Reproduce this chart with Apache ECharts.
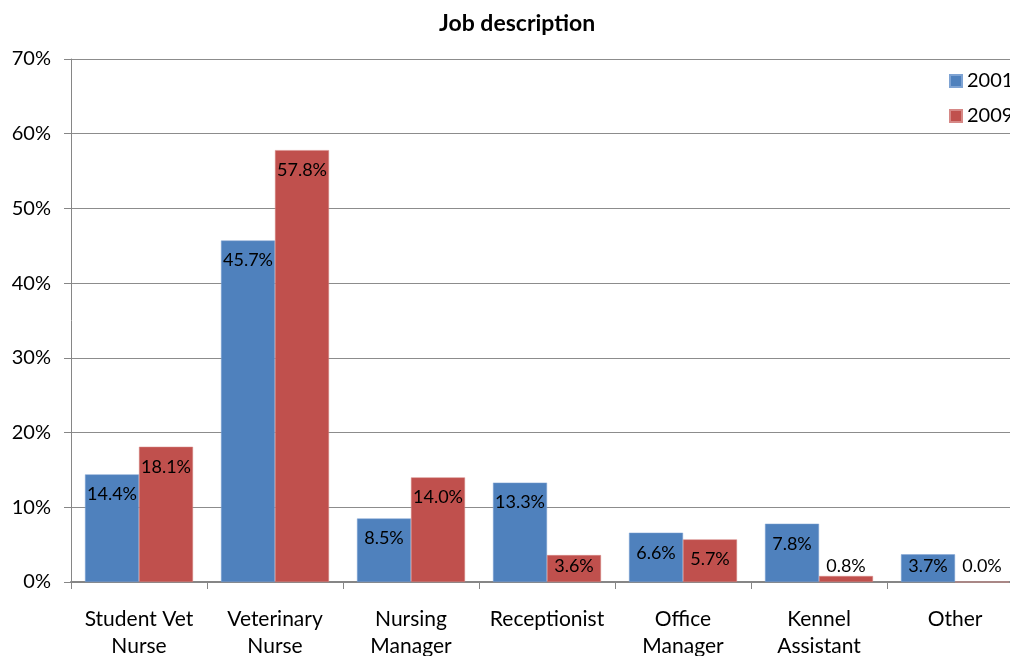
<!DOCTYPE html>
<html>
<head>
<meta charset="utf-8">
<script src="https://cdn.jsdelivr.net/npm/echarts@6/dist/echarts.min.js"></script>
<style>
	html, body { margin: 0; padding: 0; background: #fff; }
	#chartBox { width: 1010px; height: 656px; }
</style>
</head>
<body>
<div id="chartBox"></div>
<script>
var categories = ['Student Vet\nNurse', 'Veterinary\nNurse', 'Nursing\nManager', 'Receptionist', 'Office\nManager', 'Kennel\nAssistant', 'Other'];
var values2001 = [14.4, 45.7, 8.5, 13.3, 6.6, 7.8, 3.7];
var values2009 = [18.1, 57.8, 14.0, 3.6, 5.7, 0.8, 0.0];
var seriesNames = ['2001', '2009'];

window.addEventListener('load', function() {
	var myChart = echarts.init(document.getElementById('chartBox'));
	var fontName = 'Lato, "Open Sans", sans-serif';

	// short bars get their label sitting just above the axis, like Excel does
	function withLabels(arr) {
		return arr.map(function(v) {
			var item = { value: v };
			if (v < 5) {
				item.label = { position: 'insideBottom', distance: 7 };
			}
			return item;
		});
	}

	var labelStyle = {
		show: true,
		position: 'insideTop',
		distance: 11,
		color: '#000',
		fontSize: 18,
		fontFamily: fontName,
		formatter: function(p) { return p.value.toFixed(1) + '%'; }
	};

	var option = {
		animation: false,
		title: {
			text: 'Job description',
			left: 434,
			top: 7,
			textStyle: { fontSize: 23, fontWeight: 'bold', color: '#000', fontFamily: fontName }
		},
		legend: {
			orient: 'vertical',
			left: 944,
			top: 66,
			itemWidth: 12,
			itemHeight: 12,
			itemGap: 15,
			icon: 'rect',
			textStyle: { fontSize: 20, color: '#000', fontFamily: fontName },
			data: seriesNames
		},
		grid: {
			left: 71,
			top: 59,
			width: 952,
			height: 523,
			outerBoundsMode: 'none'
		},
		xAxis: {
			type: 'category',
			data: categories,
			axisLine: { lineStyle: { color: '#868686', width: 2 } },
			axisTick: { show: true, length: 7, lineStyle: { color: '#868686' } },
			axisLabel: {
				interval: 0,
				margin: 24,
				fontSize: 21,
				lineHeight: 27,
				color: '#000',
				fontFamily: fontName
			}
		},
		yAxis: {
			type: 'value',
			min: 0,
			max: 70,
			interval: 10,
			axisLine: { show: true, lineStyle: { color: '#868686' } },
			axisTick: { show: true, length: 7, lineStyle: { color: '#868686' } },
			axisLabel: {
				formatter: '{value}%',
				margin: 20,
				fontSize: 20,
				color: '#000',
				fontFamily: fontName
			},
			splitLine: { lineStyle: { color: '#8c8c8c' } }
		},
		series: [{
			name: seriesNames[0],
			type: 'bar',
			barGap: 0,
			barCategoryGap: '20.6%',
			itemStyle: { color: '#4F81BD', borderColor: '#7ea3d3', borderWidth: 0.5 },
			label: labelStyle,
			data: withLabels(values2001)
		}, {
			name: seriesNames[1],
			type: 'bar',
			barGap: 0,
			barCategoryGap: '20.6%',
			itemStyle: { color: '#C0504D', borderColor: '#d68886', borderWidth: 0.5 },
			label: labelStyle,
			data: withLabels(values2009)
		}]
	};
	myChart.setOption(option);
});
</script>
</body>
</html>
